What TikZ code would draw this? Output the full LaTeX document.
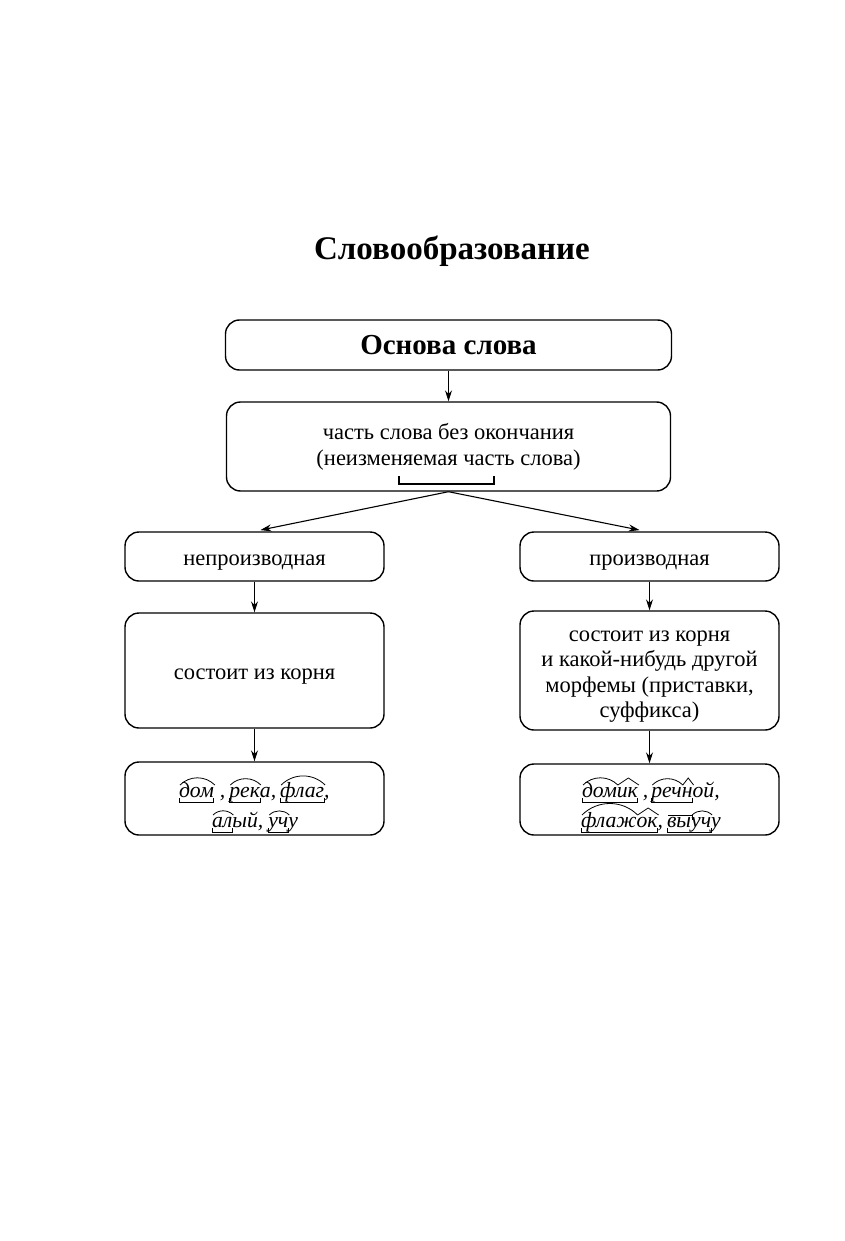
\documentclass[tikz,border=0pt]{standalone}
\usepackage{fontspec}
\setmainfont{Liberation Serif}
\usetikzlibrary{arrows.meta}
\tikzset{
  box/.style={draw, line width=1.4pt, rounded corners=14pt, align=center,
    font=\fontsize{22.5}{25.6}\selectfont, inner sep=0pt},
  oneline/.style={align=none, text height=18pt, text depth=0pt},
  link/.style={-{Stealth[length=11pt,width=7pt]}, line width=1.1pt},
  morph/.style={inner sep=0pt, outer sep=0pt, anchor=base west,
    text height=12pt, text depth=5pt, font=\fontsize{21.7}{25}\selectfont\itshape},
  rootarc/.style={line width=0.8pt, bend left=45},
}
\begin{document}
\begin{tikzpicture}[x=1pt,y=-1pt]
  \fill[white] (0,0) rectangle (845,1241);
  \useasboundingbox (0,0) rectangle (845,1241);
  \node[font=\fontsize{33}{38}\selectfont\bfseries] (title) at (452,251) {Словообразование};
  \draw
    (448.5,345) node[box, minimum width=446pt, minimum height=50pt,
      font=\fontsize{29}{32}\selectfont\bfseries] (osnova){Основа слова}
    (448.5,446.5) node[box, minimum width=444pt, minimum height=89pt,
      font=\fontsize{22.5}{26}\selectfont] (chast){часть слова без окончания\\(неизменяемая часть слова)}
    (254.5,556.5) node[box, oneline, minimum width=259pt, minimum height=49pt] (nepr){непроизводная}
    (649.5,556.5) node[box, oneline, minimum width=259pt, minimum height=49pt] (proiz){производная}
    (254.5,670.5) node[box, oneline, minimum width=259pt, minimum height=115pt] (koren){состоит из корня}
    (649.5,670.5) node[box, minimum width=259pt, minimum height=119pt] (morfema){\rule{0pt}{23pt}состоит из корня\\и какой-нибудь другой\\морфемы (приставки,\\суффикса)}
    (254.5,798.5) node[box, minimum width=259pt, minimum height=73pt] (primL){}
    (649.5,799.5) node[box, minimum width=259pt, minimum height=71pt] (primR){};
  % bracket under the text of the second box
  \draw[line width=1.8pt] (399,476) -- (399,484) -- (494,484) -- (494,476);
  \begin{scope}[link]
    \draw (osnova.south) to (chast.north);
    \draw[shorten >=6pt] (chast.south) to (nepr.north);
    \draw[shorten >=6pt] (chast.south) to ([xshift=-4pt]proiz.north);
    \draw (nepr.south) to (koren.north);
    \draw (proiz.south) to (morfema.north);
    \draw (koren.south) to (primL.north);
    \draw (morfema.south) to (primR.north);
  \end{scope}
  % examples
  \path
    (179,797) node[morph] (domL){дом}
    (domL.base east) node[morph] (s1){\kern6pt,\kern4pt}
    (s1.base east) node[morph] (rekL){рек}
    (rekL.base east) node[morph] (s2){а,\kern4pt}
    (s2.base east) node[morph] (flagL){флаг}
    (flagL.base east) node[morph] (s3){,}
    (212,827) node[morph] (alL){ал}
    (alL.base east) node[morph] (s4){ый,\kern5pt}
    (s4.base east) node[morph] (uchL){уч}
    (uchL.base east) node[morph] (s5){у}
    (582,797) node[morph] (domR){дом}
    (domR.base east) node[morph] (ikR){ик}
    (ikR.base east) node[morph] (s6){\kern5pt,\kern3pt}
    (s6.base east) node[morph] (rechR){реч}
    (rechR.base east) node[morph] (nR){н}
    (nR.base east) node[morph] (s7){ой,}
    (581,827) node[morph] (flazhR){флаж}
    (flazhR.base east) node[morph] (okR){ок}
    (okR.base east) node[morph] (s8){,\kern4pt}
    (s8.base east) node[morph] (vyR){вы}
    (vyR.base east) node[morph] (uchR){уч}
    (uchR.base east) node[morph] (s9){у};
  \begin{scope}[line width=0.8pt]
    % roots
    \foreach \r in {domL,rekL,flagL,alL,uchL,domR,rechR,flazhR,uchR}
      \draw[rootarc] ([xshift=1pt]\r.north west) to ([xshift=1pt]\r.north east);
    % suffixes
    \foreach \s in {ikR,nR,okR}
      \draw ([xshift=1pt]\s.north west) -- ([xshift=1pt,yshift=7pt]\s.north) -- ([xshift=1pt]\s.north east);
    % prefix
    \draw ([xshift=1pt]vyR.north west) -- ([xshift=1pt]vyR.north east) -- ++(0,-5pt);
    % stems
    \foreach \a/\b in {domL/domL,rekL/rekL,flagL/flagL,alL/alL,uchL/uchL,domR/ikR,rechR/nR,flazhR/okR,vyR/uchR}
      \draw ([yshift=4pt]\a.south west) -- (\a.south west) -- (\b.south east) -- ++(0,4pt);
  \end{scope}
\end{tikzpicture}
\end{document}
